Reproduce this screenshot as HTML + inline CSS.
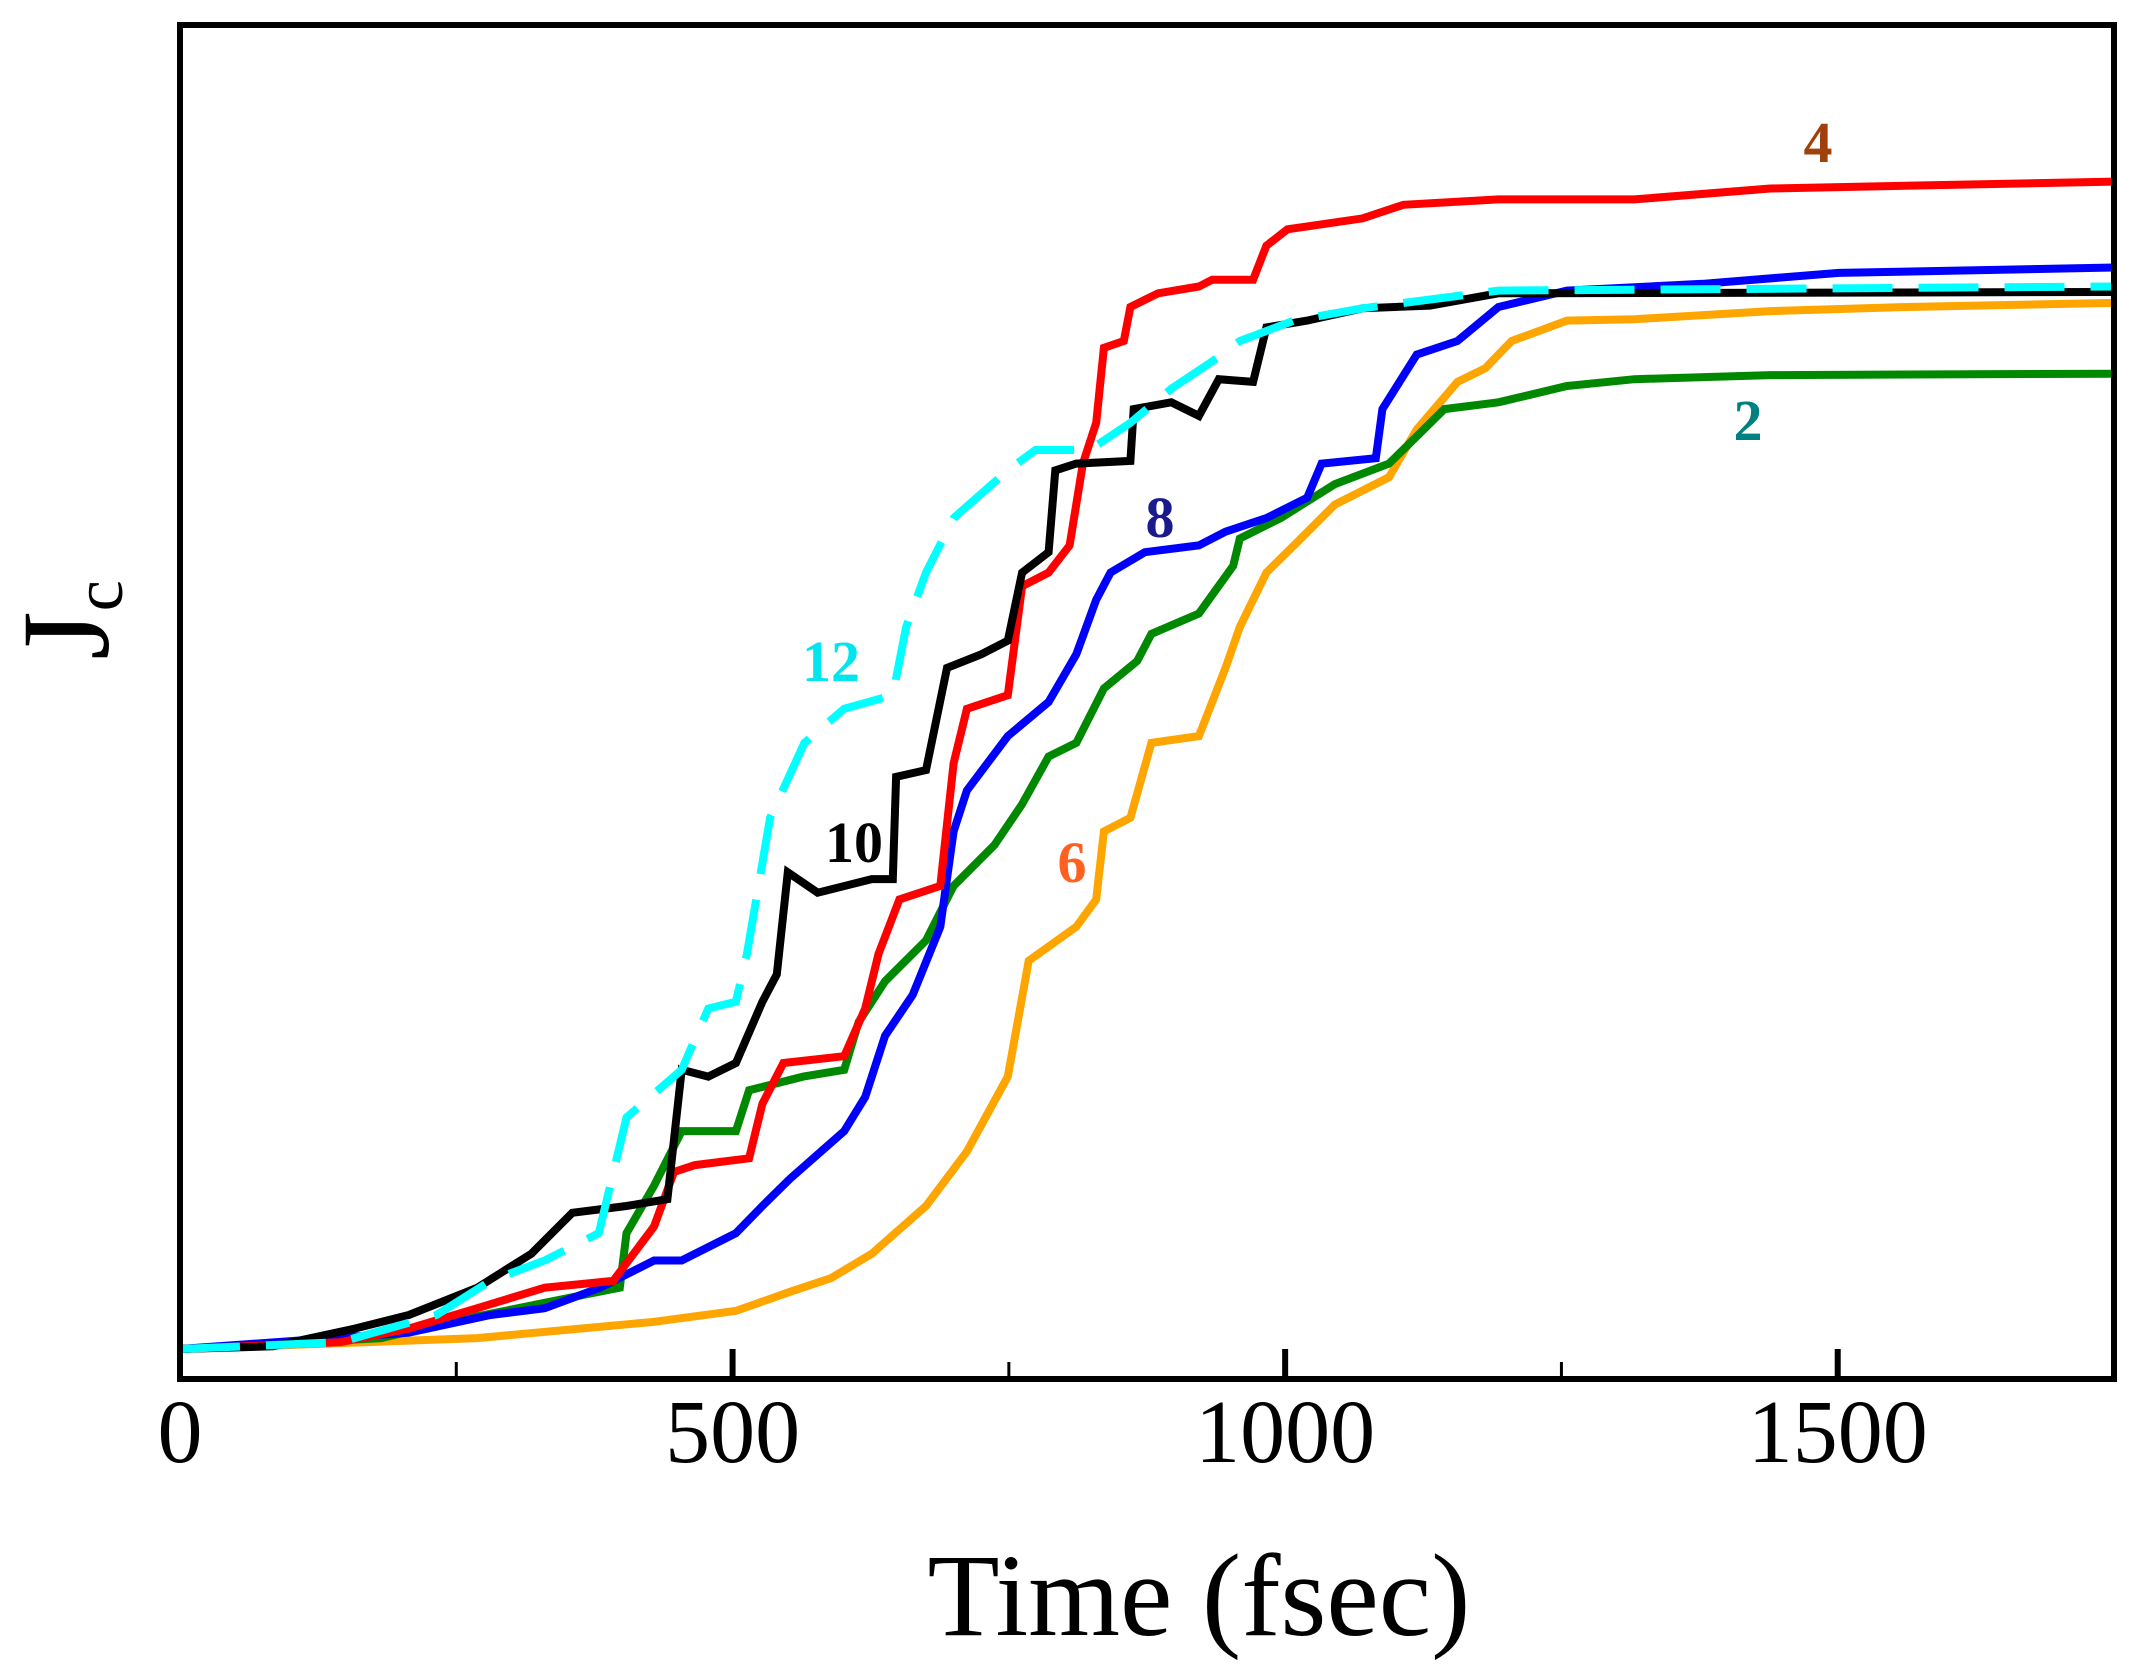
<!DOCTYPE html>
<html><head><meta charset="utf-8"><style>
html,body{margin:0;padding:0;background:#fff;}
svg{display:block;}
</style></head><body>
<svg id="chart" width="2132" height="1670" viewBox="0 0 2132 1670" xmlns="http://www.w3.org/2000/svg" font-family="'Liberation Serif', serif">
<g id="series"></g>
<rect x="180" y="25" width="1934" height="1354" fill="none" stroke="#000" stroke-width="6"/>
<g id="ticks"></g>
<text x="1199" y="1635" font-size="118" text-anchor="middle">Time (fsec)</text>
<text transform="translate(108,620) rotate(-90)" font-size="125" text-anchor="middle">J<tspan font-size="70" dy="14">c</tspan></text>
<g font-size="58" font-weight="bold">
<text x="1818" y="162" fill="#a0400a" text-anchor="middle">4</text>
<text x="1748" y="440" fill="#008080" text-anchor="middle">2</text>
<text x="1160" y="537" fill="#1a1a8c" text-anchor="middle">8</text>
<text x="831" y="681" fill="#00e5ee" text-anchor="middle">12</text>
<text x="854" y="862" fill="#000" text-anchor="middle">10</text>
<text x="1072" y="882" fill="#ff6020" text-anchor="middle">6</text>
</g>
</svg>
<script>
const xTicks=[0,500,1000,1500];
const xMinorTicks=[250,750,1250];
const xDomain=[0,1750];
const yDomain=[-22,972];
const t4=[0,145,207,269,330,392,429,447,466,515,527,546,601,620,632,651,688,700,712,749,762,786,805,817,829,836,854,860,885,922,934,971,983,1002,1070,1107,1193,1316,1439,1750];
const v4=[0,5,15,30,45,50,90,130,135,140,180,210,215,250,290,330,340,430,470,480,560,570,590,650,680,735,740,765,775,780,785,785,810,822,830,840,844,844,852,857];
const t10=[0,84,158,207,269,318,355,404,441,454,478,503,527,540,550,577,626,645,648,675,694,725,749,762,786,792,811,860,863,897,922,940,971,983,1020,1070,1131,1193,1750];
const v10=[0,2,15,25,45,70,100,105,110,205,200,210,255,275,350,335,345,345,420,425,500,510,520,570,585,645,650,652,690,695,685,712,710,750,755,764,766,775,776];
const t12=[0,145,232,281,330,379,404,454,478,503,513,534,565,601,645,657,675,700,749,774,823,860,897,934,959,1008,1070,1193,1750];
const v12=[0,5,25,50,65,85,170,205,250,255,290,390,445,470,480,530,570,610,645,660,660,680,705,725,740,755,764,777,780];
const t8=[0,207,281,330,380,429,454,503,527,552,601,620,638,663,688,700,712,749,786,811,829,842,873,922,946,983,1020,1033,1082,1088,1119,1156,1193,1255,1378,1501,1750];
const v8=[0,12,25,30,45,65,65,85,105,125,160,185,230,260,310,380,410,450,475,510,550,570,585,590,600,610,625,650,654,690,730,740,765,777,782,790,794];
const t2=[0,182,244,306,367,398,404,429,454,503,515,564,601,614,638,675,700,737,762,786,811,836,866,879,922,953,959,996,1045,1094,1119,1144,1193,1255,1316,1439,1750];
const v2=[0,8,20,30,40,45,85,120,160,160,190,200,205,240,270,300,340,370,400,435,445,485,505,525,540,575,595,610,635,650,670,690,695,707,712,715,716];
const t6=[0,269,429,503,552,589,626,675,712,749,768,811,829,836,860,879,922,946,959,983,1008,1045,1094,1119,1156,1181,1205,1255,1316,1439,1563,1750];
const v6=[0,8,20,28,42,52,70,105,145,200,285,310,330,380,390,445,450,500,530,570,590,620,640,675,710,720,740,755,756,762,765,768];

const NS='http://www.w3.org/2000/svg';
function xs(t){return 180+(t-xDomain[0])/(xDomain[1]-xDomain[0])*1934;}
function ys(v){return 1379-(v-yDomain[0])/(yDomain[1]-yDomain[0])*1354;}
const sg=document.getElementById('series');
function drawLine(ts,vs,color,name,dash){
  const p=document.createElementNS(NS,'path');
  let d='';
  for(let i=0;i<ts.length;i++){d+=(i?'L':'M')+xs(ts[i]).toFixed(1)+','+ys(vs[i]).toFixed(1);}
  p.setAttribute('d',d);
  p.setAttribute('fill','none');
  p.setAttribute('stroke',color);
  p.setAttribute('stroke-width','8');
  p.setAttribute('stroke-linejoin','miter');
  if(dash)p.setAttribute('stroke-dasharray',dash);
  
  
  sg.appendChild(p);
}
drawLine(t6,v6,'#ffa500','series-6');
drawLine(t2,v2,'#008800','series-2');
drawLine(t8,v8,'#0000ff','series-8');
drawLine(t4,v4,'#ff0000','series-4');
drawLine(t10,v10,'#000000','series-10');
drawLine(t12,v12,'#00ffff','series-12','60,26');

const tg=document.getElementById('ticks');
xTicks.forEach(function(t){
  const l=document.createElementNS(NS,'line');
  l.setAttribute('x1',xs(t));l.setAttribute('x2',xs(t));
  l.setAttribute('y1',1379);l.setAttribute('y2',1349);
  l.setAttribute('stroke','#000');l.setAttribute('stroke-width','6');
  
  
  tg.appendChild(l);
  const tx=document.createElementNS(NS,'text');
  tx.setAttribute('x',xs(t));tx.setAttribute('y',1462);
  tx.setAttribute('font-size','90');tx.setAttribute('text-anchor','middle');
  tx.textContent=String(t);
  
  
  tg.appendChild(tx);
});
xMinorTicks.forEach(function(t){
  const l=document.createElementNS(NS,'line');
  l.setAttribute('x1',xs(t));l.setAttribute('x2',xs(t));
  l.setAttribute('y1',1379);l.setAttribute('y2',1362);
  l.setAttribute('stroke','#000');l.setAttribute('stroke-width','3');
  
  
  tg.appendChild(l);
});
</script>
</body></html>
